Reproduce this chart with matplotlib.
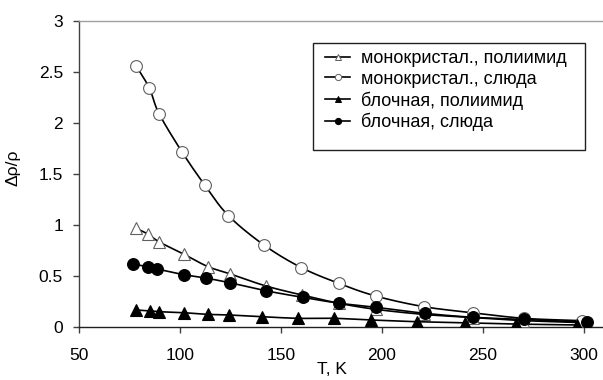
import numpy as np
import matplotlib
matplotlib.use("Agg")
import matplotlib.pyplot as plt
from matplotlib.patches import Rectangle

plt.rcParams['font.family'] = ['Liberation Sans', 'DejaVu Sans']

# монокристал., полиимид (open triangles)
t_mono_pi = [78.2, 84.3, 89.8, 102.0, 113.7, 124.9, 142.4, 160.5, 178.6, 197.0, 221.0, 245.0, 270.0, 299.0]
r_mono_pi = [0.965, 0.906, 0.83, 0.71, 0.59, 0.517, 0.40, 0.31, 0.23, 0.17, 0.12, 0.09, 0.06, 0.04]

# монокристал., слюда (open circles)
t_mono_mica = [78.2, 84.8, 89.6, 101.1, 112.2, 123.9, 141.6, 160.0, 178.6, 197.0, 220.8, 244.9, 270.3, 298.9]
r_mono_mica = [2.56, 2.34, 2.09, 1.71, 1.39, 1.09, 0.80, 0.58, 0.425, 0.30, 0.196, 0.137, 0.082, 0.059]

# блочная, полиимид (filled triangles)
t_block_pi = [78.2, 85.1, 89.8, 102.0, 113.7, 124.1, 140.6, 158.6, 176.4, 194.4, 217.5, 241.1, 266.3, 296.7]
r_block_pi = [0.164, 0.154, 0.147, 0.137, 0.121, 0.115, 0.098, 0.082, 0.082, 0.066, 0.049, 0.039, 0.026, 0.017]

# блочная, слюда (filled circles)
t_block_mica = [76.5, 84.3, 88.6, 102.0, 112.7, 124.9, 142.4, 160.7, 178.9, 197.0, 221.3, 245.2, 270.3, 301.3]
r_block_mica = [0.615, 0.588, 0.566, 0.51, 0.477, 0.43, 0.353, 0.288, 0.23, 0.19, 0.131, 0.092, 0.072, 0.043]

labels = ["монокристал., полиимид", "монокристал., слюда",
          "блочная, полиимид", "блочная, слюда"]


def smooth(x, y, n=20):
    # Catmull-Rom spline through the points
    p = np.column_stack([x, y]).astype(float)
    p = np.vstack([2 * p[0] - p[1], p, 2 * p[-1] - p[-2]])
    out = []
    s = np.linspace(0, 1, n, endpoint=False)[:, None]
    for i in range(1, len(p) - 2):
        p0, p1, p2, p3 = p[i - 1], p[i], p[i + 1], p[i + 2]
        seg = 0.5 * ((2 * p1) + (-p0 + p2) * s
                     + (2 * p0 - 5 * p1 + 4 * p2 - p3) * s ** 2
                     + (-p0 + 3 * p1 - 3 * p2 + p3) * s ** 3)
        out.append(seg)
    out.append(p[-2][None, :])
    out = np.vstack(out)
    return out[:, 0], out[:, 1]


fig = plt.figure(figsize=(6.03, 3.80), dpi=100)
ax = fig.add_axes([79 / 603, 53.3 / 380, 524 / 603, 306 / 380])

series = [
    (t_mono_pi, r_mono_pi, '^', 'white'),
    (t_mono_mica, r_mono_mica, 'o', 'white'),
    (t_block_pi, r_block_pi, '^', 'black'),
    (t_block_mica, r_block_mica, 'o', 'black'),
]

handles = []
for (t, r, m, fc), lab in zip(series, labels):
    sx, sy = smooth(t, r)
    ax.plot(sx, sy, color='black', lw=1.2, zorder=2)
    ec = '#606060' if fc == 'white' else 'black'
    ax.plot(t, r, linestyle='none', marker=m, markersize=8.5,
            markerfacecolor=fc, markeredgecolor=ec, markeredgewidth=0.8, zorder=3)
    h, = ax.plot([], [], color='black', lw=1.2, marker=m, markersize=4.5,
                 markerfacecolor=fc, markeredgecolor=ec, markeredgewidth=0.7)
    handles.append(h)

ax.set_xlim(50, 309.4)
ax.set_ylim(0, 3)
ax.set_xticks([50, 100, 150, 200, 250, 300])
ax.set_yticks([0, 0.5, 1, 1.5, 2, 2.5, 3])
ax.set_yticklabels(['0', '0.5', '1', '1.5', '2', '2.5', '3'])

ax.spines['right'].set_visible(False)
ax.spines['top'].set_color('#a0a0a0')
ax.spines['left'].set_color('#404040')
ax.spines['bottom'].set_color('#202020')
for s in ax.spines.values():
    s.set_linewidth(1.0)
ax.tick_params(axis='both', direction='out', length=4.5, width=1.0,
               color='#404040', labelsize=12.5)
ax.tick_params(axis='y', pad=7)
ax.tick_params(axis='x', pad=10.5)

ax.set_xlabel("T, K", fontsize=12.5)
ax.xaxis.set_label_coords((332 - 79) / 524, -0.115)
ax.set_ylabel("Δρ/ρ", fontsize=12.5)
ax.yaxis.set_label_coords(-0.112, 0.52)

# legend box
fig.patches.append(Rectangle((312.7 / 603, 1 - 150 / 380), (585 - 312.7) / 603,
                             (150 - 43.3) / 380, transform=fig.transFigure,
                             facecolor='white', edgecolor='#202020', lw=1.0, zorder=5))
leg = fig.legend(handles, labels, loc='upper left',
                 bbox_to_anchor=(325 / 603, 1 - 50 / 380), frameon=False,
                 fontsize=13, handlelength=1.4, handletextpad=0.6,
                 labelspacing=0.2, borderpad=0, borderaxespad=0)
leg.set_zorder(6)

fig.savefig("out.png", dpi=100)
